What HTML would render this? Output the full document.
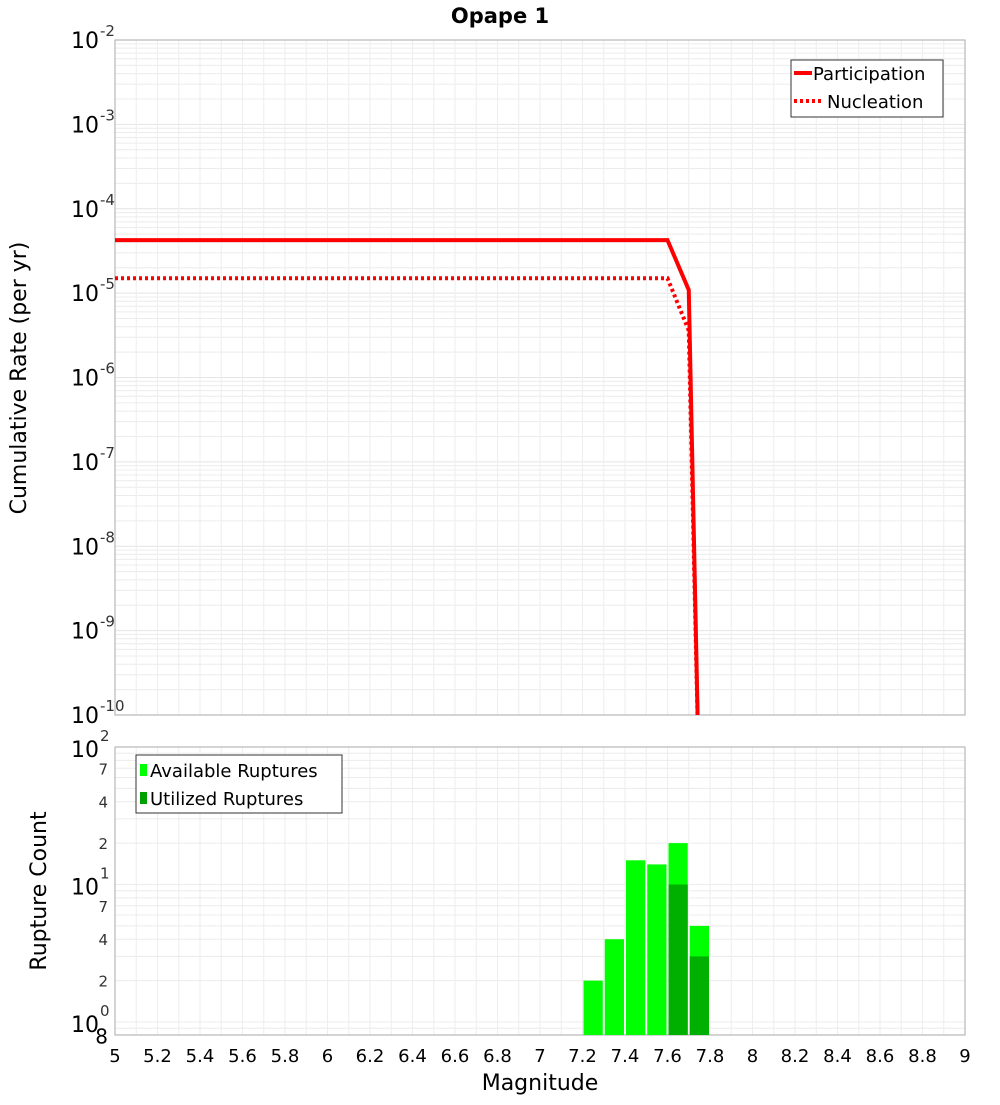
<!DOCTYPE html>
<html><head><meta charset="utf-8"><style>
body{margin:0;background:#fff;width:1000px;height:1100px;overflow:hidden}
svg{font-family:"DejaVu Sans","Liberation Sans",sans-serif}
</style></head><body>
<svg id="c" width="1000" height="1100">
<text x="500" y="23" text-anchor="middle" font-size="21" font-weight="bold">Opape 1</text>
<text transform="translate(26,378) rotate(-90)" text-anchor="middle" font-size="22">Cumulative Rate (per yr)</text>
<text transform="translate(46,891) rotate(-90)" text-anchor="middle" font-size="22">Rupture Count</text>
<text x="540" y="1090" text-anchor="middle" font-size="22">Magnitude</text>
<g id="gtop"></g>
<g id="gbot"></g>
</svg>
<script>
const partMags=[5,7.6,7.7,7.75];
const partVals=[4.25e-5,4.25e-5,1.09e-5,1e-11];
const nuclMags=[5,7.6,7.7,7.75];
const nuclVals=[1.5e-5,1.5e-5,3.6e-6,1e-11];
const binMags=[7.2,7.3,7.4,7.5,7.6,7.7];
const availCounts=[2,4,15,14,20,5];
const usedCounts=[0,0,0,0,10,3];
const xTicks=[5,5.2,5.4,5.6,5.8,6,6.2,6.4,6.6,6.8,7,7.2,7.4,7.6,7.8,8,8.2,8.4,8.6,8.8,9];
const topExps=[-2,-3,-4,-5,-6,-7,-8,-9,-10];
const botMinorLabels=[2,4,7,20,40,70];

const NS="http://www.w3.org/2000/svg";
const L=115,R=965;
const X=m=>L+(m-5)/4*(R-L);
const T0=40,T1=715;
const YT=v=>T0+(-2-Math.log10(v))*(T1-T0)/8;
const B0=747,B1=1035;
const YB=v=>1022-Math.log10(v)*137.5;
function mk(p,t,a,txt){const e=document.createElementNS(NS,t);for(const k in a)e.setAttribute(k,a[k]);if(txt!==undefined)e.textContent=txt;p.appendChild(e);return e;}
const gTop=document.getElementById('gtop'),gBot=document.getElementById('gbot');
const svgEl=document.getElementById('c');
const defs=document.createElementNS(NS,'defs');
defs.innerHTML='<clipPath id="ct"><rect x="115" y="40" width="850" height="675"/></clipPath><clipPath id="cb"><rect x="115" y="747" width="850" height="288"/></clipPath>';
svgEl.insertBefore(defs,svgEl.firstChild);
for(let e=-10;e<-2;e++)for(let k=1;k<10;k++){const y=YT(k*Math.pow(10,e));
const g=mk(gTop,'line',{x1:L,x2:R,y1:y,y2:y,stroke:k==1?'#e4e4e4':'#ececec','stroke-width':1});

}
for(let i=1;i<40;i++){const x=X(5+i*0.1);mk(gTop,'line',{x1:x,x2:x,y1:T0,y2:T1,stroke:'#eeeeee'});mk(gBot,'line',{x1:x,x2:x,y1:B0,y2:B1,stroke:'#eeeeee'});}
for(let e=-1;e<2;e++)for(let k=1;k<10;k++){const v=k*Math.pow(10,e),y=YB(v);if(y<B0||y>B1)continue;
const g=mk(gBot,'line',{x1:L,x2:R,y1:y,y2:y,stroke:'#ececec'});

}
mk(gTop,'rect',{x:L,y:T0,width:R-L,height:T1-T0,fill:'none',stroke:'#aaa'});
mk(gBot,'rect',{x:L,y:B0,width:R-L,height:B1-B0,fill:'none',stroke:'#aaa'});
topExps.forEach(e=>{const y=YT(Math.pow(10,e));
const t=mk(gTop,'text',{x:99,y:y+8,'text-anchor':'end','font-size':22},'10');


mk(gTop,'text',{x:100,y:y-4,'font-size':15,'fill':'#333'},String(e));});
[[2,'2'],[1,'1'],[0,'0']].forEach(([e,s])=>{const y=YB(Math.pow(10,e));
const t=mk(gBot,'text',{x:99,y:y+10,'text-anchor':'end','font-size':22},'10');


mk(gBot,'text',{x:100,y:y-6,'font-size':15,fill:'#333'},s);});
botMinorLabels.forEach(v=>{const y=YB(v);mk(gBot,'text',{x:108,y:y+6,'text-anchor':'end','font-size':15,fill:'#333'},String(v).charAt(0));});
mk(gBot,'text',{x:108,y:YB(0.8)+8,'text-anchor':'end','font-size':20},'8');
xTicks.forEach(m=>{const t=mk(gBot,'text',{x:X(m),y:1062,'text-anchor':'middle','font-size':18},String(m));

});
function pts(ms,vs){return ms.map((m,i)=>X(m)+','+YT(vs[i])).join(' ');}
let p=mk(gTop,'polyline',{points:pts(partMags,partVals),fill:'none',stroke:'#ff0000','stroke-width':4,'clip-path':'url(#ct)'});


p=mk(gTop,'polyline',{points:pts(nuclMags,nuclVals),fill:'none',stroke:'#ff0000','stroke-width':4,'stroke-dasharray':'3,3','clip-path':'url(#ct)'});


binMags.forEach((m,i)=>{const x0=X(m),x1=X(m+0.1);
const a=mk(gBot,'rect',{x:x0+1,y:YB(availCounts[i]),width:x1-x0-2,height:B1-YB(availCounts[i]),fill:'#00ff00','clip-path':'url(#cb)'});


if(usedCounts[i]>0){const u=mk(gBot,'rect',{x:x0+1,y:YB(usedCounts[i]),width:x1-x0-2,height:B1-YB(usedCounts[i]),fill:'#00b000','clip-path':'url(#cb)'});

}});
let lg=mk(gTop,'g',{});


mk(lg,'rect',{x:791,y:60,width:152,height:57,fill:'#fff',stroke:'#333'});
mk(lg,'line',{x1:794,x2:812,y1:73,y2:73,stroke:'#f00','stroke-width':4});
mk(lg,'text',{x:813,y:80,'font-size':18},'Participation');
mk(lg,'line',{x1:794,x2:822,y1:101,y2:101,stroke:'#f00','stroke-width':4,'stroke-dasharray':'3,3'});
mk(lg,'text',{x:827,y:108,'font-size':18},'Nucleation');
lg=mk(gBot,'g',{});


mk(lg,'rect',{x:136,y:755,width:206,height:58,fill:'#fff',stroke:'#333'});
mk(lg,'rect',{x:140,y:764,width:7,height:12,fill:'#00ff00'});
mk(lg,'text',{x:150,y:777,'font-size':18},'Available Ruptures');
mk(lg,'rect',{x:140,y:792,width:7,height:12,fill:'#00a000'});
mk(lg,'text',{x:150,y:805,'font-size':18},'Utilized Ruptures');
</script>
</body></html>
